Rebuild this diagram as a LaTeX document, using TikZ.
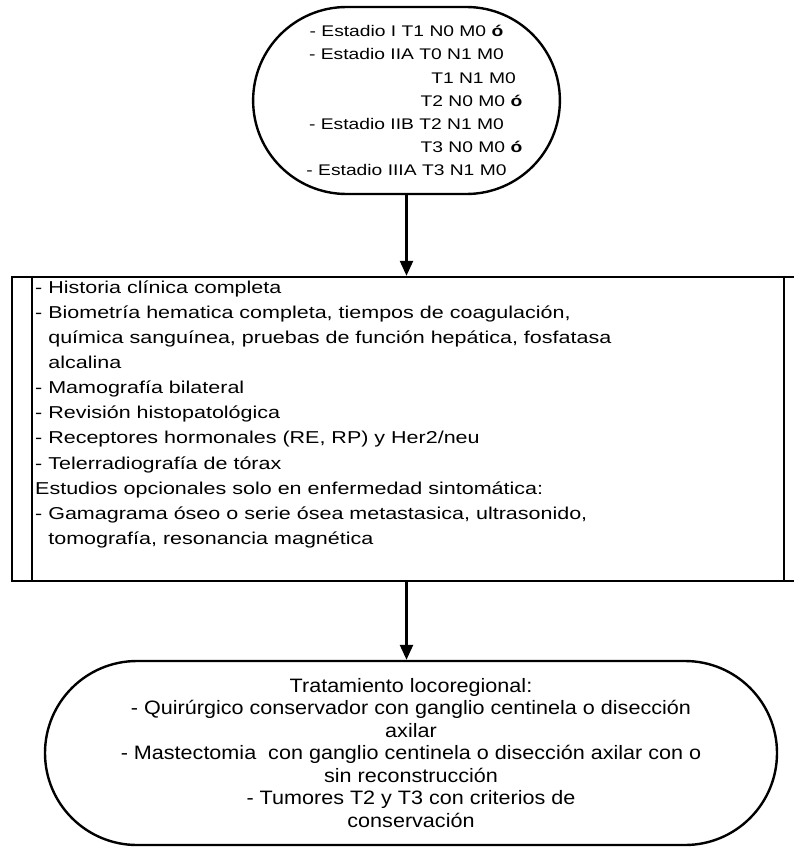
\documentclass[tikz,border=0pt]{standalone}
\usepackage{fontspec}
\setmainfont{Liberation Sans}
\newfontfamily\widesans[FakeStretch=1.25]{Liberation Sans}
\newfontfamily\narrowsans[FakeStretch=1.112]{Liberation Sans}
\usetikzlibrary{arrows.meta,shapes.misc}

\tikzset{
  outline/.style={draw=black, line width=2.4pt},
  terminal/.style={outline, rounded rectangle, inner sep=0pt},
  flowarrow/.style={line width=2.4pt, -{Triangle[width=13pt,length=15pt]}},
  stagefont/.style={font=\widesans\fontsize{15.4}{23.07}\selectfont},
  bodyfont/.style={font=\widesans\fontsize{17.2}{25.1}\selectfont},
  treatfont/.style={font=\narrowsans\fontsize{19.4}{22.5}\selectfont}
}

\begin{document}
\begin{tikzpicture}[x=1pt, y=-1pt]
\useasboundingbox (0,0) rectangle (793,848);

% staging criteria
\node[terminal, stagefont, align=center, minimum width=289pt, minimum height=187pt]
  (stages) at (406.5,100.5)
  {- Estadio I T1 N0 M0 \textbf{ó}\\
   - Estadio IIA T0 N1 M0\\
   \hspace*{134pt}T1 N1 M0\\
   \hspace*{130pt}T2 N0 M0 \textbf{ó}\\
   - Estadio IIB T2 N1 M0\\
   \hspace*{130pt}T3 N0 M0 \textbf{ó}\\
   - Estadio IIIA T3 N1 M0};

% initial work-up (predefined process box)
\node[outline, rectangle, minimum width=793pt, minimum height=304pt, inner sep=0pt]
  (workup) at (408.5,429) {};
\draw[outline] ([xshift=21pt]workup.north west) -- ([xshift=21pt]workup.south west);
\draw[outline] ([xshift=-22pt]workup.north east) -- ([xshift=-22pt]workup.south east);
% the base anchor of a multi-line node sits on its last line
\node[bodyfont, align=left, anchor=base west, inner sep=0pt] (workuptext) at (35,544.3)
  {- Historia clínica completa\\
   - Biometría hematica completa, tiempos de coagulación,\\
   \hphantom{-\ }química sanguínea, pruebas de función hepática, fosfatasa\\
   \hphantom{-\ }alcalina\\
   - Mamografía bilateral\\
   - Revisión histopatológica\\
   - Receptores hormonales (RE, RP) y Her2/neu\\
   - Telerradiografía de tórax\\
   Estudios opcionales solo en enfermedad sintomática:\\
   - Gamagrama óseo o serie ósea metastasica, ultrasonido,\\
   \hphantom{-\ }tomografía, resonancia magnética};

% locoregional treatment
\node[terminal, treatfont, align=center, minimum width=732pt, minimum height=184pt]
  (treatment) at (411,753)
  {Tratamiento locoregional:\\
   - Quirúrgico conservador con ganglio centinela o disección\\
   axilar\\
   - Mastectomia~ con ganglio centinela o disección axilar con o\\
   sin reconstrucción\\
   - Tumores T2 y T3 con criterios de\\
   conservación};

% connectors
\draw[flowarrow] (stages.south) -- (stages.south |- workup.north);
\draw[flowarrow] (stages.south |- workup.south) -- (stages.south |- treatment.north);
\end{tikzpicture}
\end{document}
